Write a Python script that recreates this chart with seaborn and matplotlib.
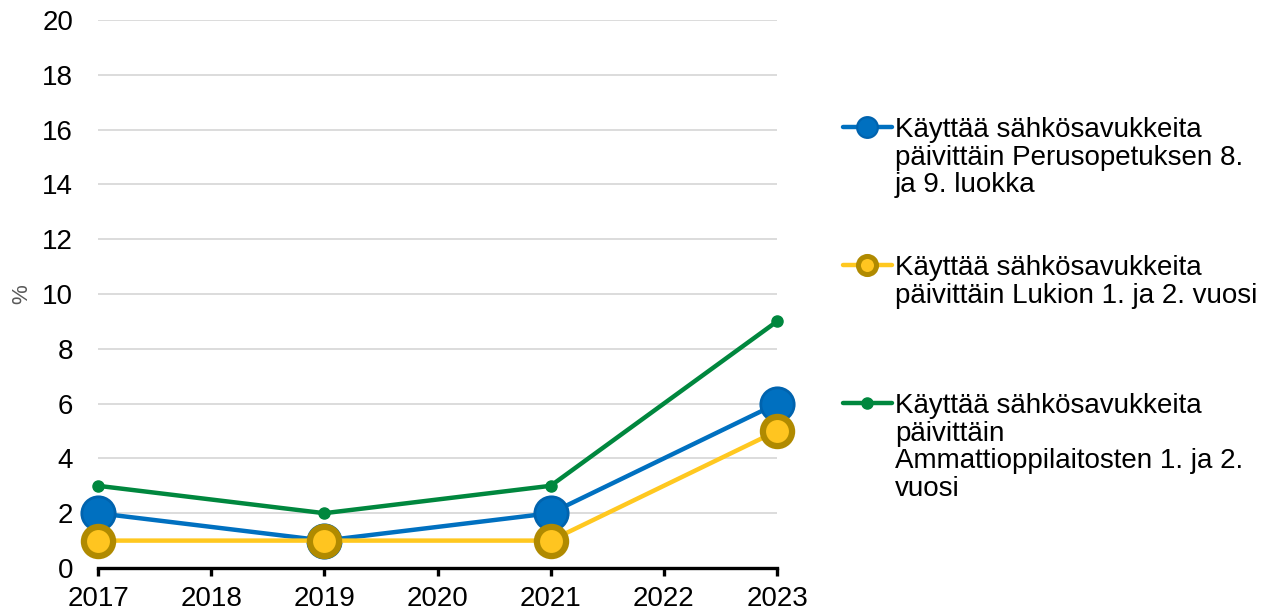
import numpy as np
import pandas as pd
import matplotlib
matplotlib.use("Agg")
import matplotlib.pyplot as plt
import seaborn as sns
from matplotlib.lines import Line2D

years = [2017, 2019, 2021, 2023]
perusopetus = [2, 1, 2, 6]
lukio = [1, 1, 1, 5]
ammatti = [3, 2, 3, 9]
labels = [
    "Käyttää sähkösavukkeita\npäivittäin Perusopetuksen 8.\nja 9. luokka",
    "Käyttää sähkösavukkeita\npäivittäin Lukion 1. ja 2. vuosi",
    "Käyttää sähkösavukkeita\npäivittäin\nAmmattioppilaitosten 1. ja 2.\nvuosi",
]
xticks = list(range(2017, 2024))
yticks = list(range(0, 21, 2))

sns.set_theme(style="white")
plt.rcParams['font.family'] = ['Liberation Sans', 'DejaVu Sans']

df = pd.DataFrame({
    'year': years * 3,
    'value': perusopetus + lukio + ammatti,
    'series': [labels[0]] * 4 + [labels[1]] * 4 + [labels[2]] * 4,
})

styles = [
    dict(color='#0070C0', lw=3.2, mfc='#0070C0', mec='#0063AE', ms=24, mew=2),
    dict(color='#FFC820', lw=3.2, mfc='#FFC520', mec='#B08A00', ms=21, mew=4.5),
    dict(color='#00873E', lw=3.2, mfc='#00873E', mec='#00873E', ms=8, mew=1),
]

fig = plt.figure(figsize=(12.67, 6.15), dpi=100)
ax = fig.add_axes([98 / 1267, 1 - 568 / 615, (777 - 98) / 1267, (568 - 20) / 615])

for lab, st in zip(labels, styles):
    sub = df[df['series'] == lab]
    sns.lineplot(data=sub, x='year', y='value', ax=ax, color=st['color'],
                 linewidth=st['lw'], marker='o', markersize=st['ms'],
                 markerfacecolor=st['mfc'], markeredgecolor=st['mec'],
                 markeredgewidth=st['mew'], clip_on=False, zorder=3, legend=False)

ax.set_xlim(2017, 2023)
ax.set_ylim(0, 20)
ax.set_xticks(xticks)
ax.set_xticklabels([str(x) for x in xticks])
ax.set_yticks(yticks)
ax.grid(axis='y', color='#D9D9D9', linewidth=1.3)
ax.set_axisbelow(True)
for s in ['top', 'right', 'left']:
    ax.spines[s].set_visible(False)
ax.spines['bottom'].set_color('black')
ax.spines['bottom'].set_linewidth(2.4)
ax.spines['bottom'].set_zorder(2)
ax.tick_params(axis='x', bottom=True, direction='out', length=6, width=2.4,
               color='black', labelsize=20, pad=7, labelcolor='black')
ax.tick_params(axis='y', left=False, length=0, labelsize=20, pad=18,
               labelcolor='black')
ax.set_xlabel('')
ax.set_ylabel('%', fontsize=16, labelpad=7, color='#595959')

# legend drawn as lines and text to the right of the plot area
lax = fig.add_axes([0, 0, 1, 1])
lax.set_xlim(0, 1267)
lax.set_ylim(615, 0)
lax.axis('off')
leg_y = [127, 265, 403]
for lab, st, y in zip(labels, styles, leg_y):
    lax.add_line(Line2D([843, 892], [y, y], color=st['color'], lw=st['lw']))
    big = st['ms'] > 10
    lax.add_line(Line2D([867], [y], marker='o', color=st['color'],
                        markersize=st['ms'] * 0.62 if big else st['ms'],
                        markerfacecolor=st['mfc'], markeredgecolor=st['mec'],
                        markeredgewidth=st['mew'] * 0.8 if big else st['mew']))
    lax.text(895, y - 10, lab, fontsize=20, va='top', ha='left',
             linespacing=1.08, color='black')

fig.savefig('out.png', dpi=100)
